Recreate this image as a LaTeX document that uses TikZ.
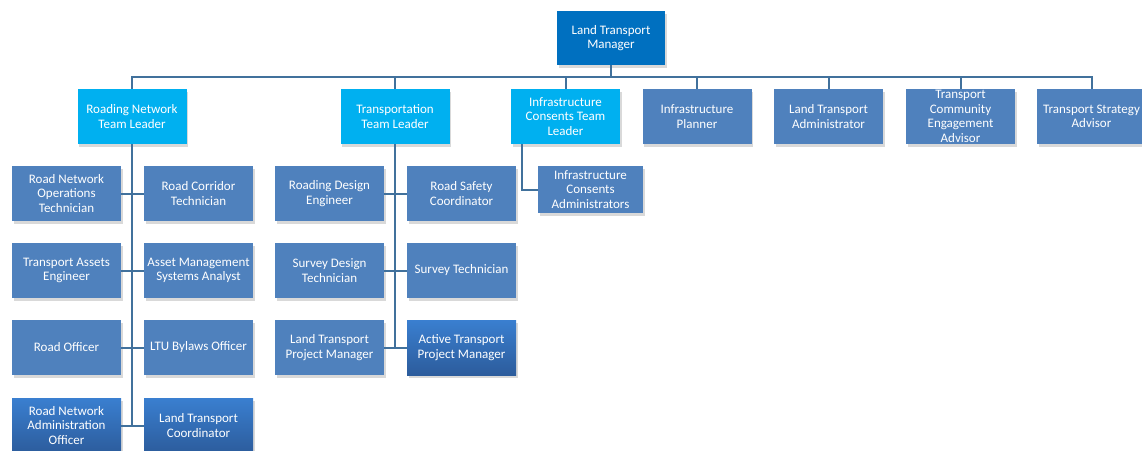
\documentclass[tikz,border=0pt]{standalone}
\usepackage{fontspec}
\setmainfont{Carlito}
\usepackage{xcolor}
\usepackage{tikz}
\usetikzlibrary{shadows}
\definecolor{mgrblue}{HTML}{0070C0}
\definecolor{leadblue}{HTML}{00B0F0}
\definecolor{staffblue}{HTML}{4F81BD}
\definecolor{linkblue}{HTML}{41719C}
\definecolor{gradtop}{HTML}{3A7FD0}
\definecolor{gradbot}{HTML}{2C5C9C}
\tikzstyle{box}=[rectangle,text=white,align=center,inner sep=0pt,
  minimum width=109pt,minimum height=55pt,
  font=\fontsize{13}{14.5}\selectfont,
  drop shadow={shadow xshift=1.5pt,shadow yshift=-3pt,opacity=0.3}]
\tikzstyle{mgr}=[box,fill=mgrblue,minimum width=108pt,minimum height=54pt]
\tikzstyle{lead}=[box,fill=leadblue]
\tikzstyle{staff}=[box,fill=staffblue]
\tikzstyle{grad}=[box,top color=gradtop,bottom color=gradbot]
\tikzstyle{link}=[draw=linkblue,line width=2pt]

\begin{document}
\begin{tikzpicture}[x=1pt,y=-1pt]
        \useasboundingbox (0,0) rectangle (1142,450);
        \node at ( 611, 38) [mgr] (ltm) {Land Transport\\Manager};
        % team leaders and advisors
        \node at ( 132,116.5) [lead] (rnl) {Roading Network\\Team Leader};
        \node at ( 395,116.5) [lead] (ttl) {Transportation\\Team Leader};
        \node at ( 565.5,116.5) [lead] (icl) {Infrastructure\\Consents Team\\Leader};
        \node at ( 697,116.5) [staff] (ipl) {Infrastructure\\Planner};
        \node at ( 828.5,116.5) [staff] (lta) {Land Transport\\Administrator};
        \node at ( 960.5,116.5) [staff] (tce) {Transport\\Community\\Engagement\\Advisor};
        \node at (1091.5,116.5) [staff] (tsa) {Transport Strategy\\Advisor};
        % roading network team
        \node at (  66.5,193.5) [staff] (rno) {Road Network\\Operations\\Technician};
        \node at ( 198.5,193.5) [staff] (rct) {Road Corridor\\Technician};
        \node at (  66.5,270.5) [staff] (tae) {Transport Assets\\Engineer};
        \node at ( 198.5,270.5) [staff] (ams) {Asset Management\\Systems Analyst};
        \node at (  66.5,347.5) [staff] (rof) {Road Officer};
        \node at ( 198.5,347.5) [staff] (lbo) {LTU Bylaws Officer};
        \node at (  66.5,425.5) [grad] (rna) {Road Network\\Administration\\Officer};
        \node at ( 198.5,425.5) [grad] (ltc) {Land Transport\\Coordinator};
        % transportation team
        \node at ( 329.5,193.5) [staff] (rde) {Roading Design\\Engineer};
        \node at ( 461.5,193.5) [staff] (rsc) {Road Safety\\Coordinator};
        \node at ( 329.5,270.5) [staff] (sdt) {Survey Design\\Technician};
        \node at ( 461.5,270.5) [staff] (stc) {Survey Technician};
        \node at ( 329.5,347.5) [staff] (lpm) {Land Transport\\Project Manager};
        \node at ( 461.5,347.5) [grad] (apm) {Active Transport\\Project Manager};
        % infrastructure consents team
        \node at ( 590.5,189.5) [staff,minimum width=105pt,minimum height=47pt] (ica) {Infrastructure\\Consents\\Administrators};
        \foreach \n in {rnl,ttl,icl,ipl,lta,tce,tsa}
          \draw [link] (ltm.south) -- ++(0,12) -| (\n.north);
        \draw [link] (rnl.south) -- (rnl.south |- rna.east);
        \draw [link] (rno.east) -- (rct.west);
        \draw [link] (tae.east) -- (ams.west);
        \draw [link] (rof.east) -- (lbo.west);
        \draw [link] (rna.east) -- (ltc.west);
        \draw [link] (ttl.south) -- (ttl.south |- lpm.east);
        \draw [link] (rde.east) -- (rsc.west);
        \draw [link] (sdt.east) -- (stc.west);
        \draw [link] (lpm.east) -- (apm.west);
        \draw [link] ([xshift=-43.5pt]icl.south) |- (ica.west);
      \end{tikzpicture}
\end{document}
